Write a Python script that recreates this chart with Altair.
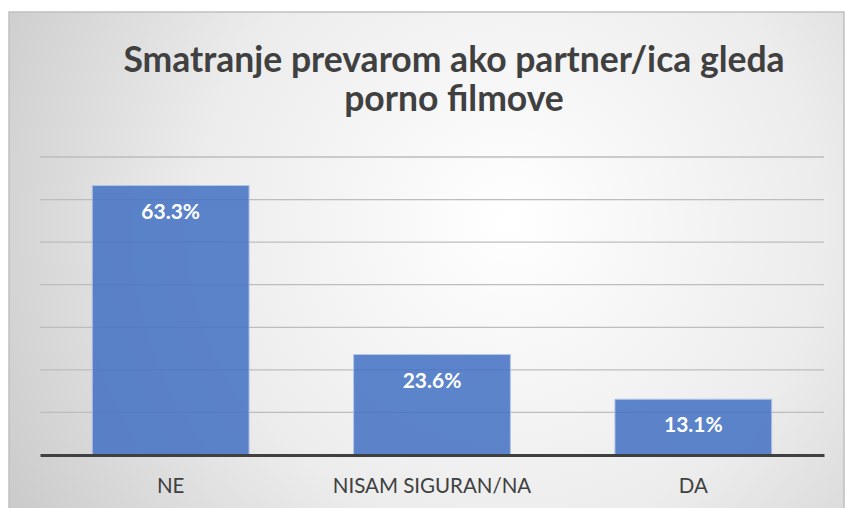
import altair as alt
import pandas as pd

categories = ["NE", "NISAM SIGURAN/NA", "DA"]
values = [63.3, 23.6, 13.1]
labels = ["63.3%", "23.6%", "13.1%"]
grid_values = [10, 20, 30, 40, 50, 60, 70]
title_lines = ["Smatranje prevarom ako partner/ica gleda", "porno filmove"]

df = pd.DataFrame({"cat": categories, "val": values, "lab": labels})
grid_df = pd.DataFrame({"g": grid_values})

FONT = "Lato"
W, H = 784, 298

x_enc = alt.X("cat:N", sort=categories, title=None,
              scale=alt.Scale(paddingInner=0.4, paddingOuter=0.2),
              axis=alt.Axis(labelAngle=0, labelFontSize=20.5, labelColor="#404040",
                            labelFont=FONT, labelPadding=21, ticks=False, labelLimit=0,
                            domainColor="#404040", domainWidth=3, zindex=1,
                            grid=False))
y_scale = alt.Scale(domain=[0, 70], nice=False)

bg = alt.Chart(alt.Data(values=[{"a": 1}])).mark_rect(
    fill={"gradient": "radial", "x1": 0.6, "y1": 0.45, "r1": 0,
          "x2": 0.6, "y2": 0.45, "r2": 0.75,
          "stops": [{"offset": 0, "color": "#ffffff"},
                    {"offset": 0.5, "color": "#ececec"},
                    {"offset": 1, "color": "#c4c4c4"}]},
    stroke="#c0c0c0", strokeWidth=1.5, clip=False
).encode(x=alt.value(-31), x2=alt.value(W + 20), y=alt.value(-145), y2=alt.value(H + 60))

title = alt.Chart(alt.Data(values=[{"a": 1}])).mark_text(
    text=title_lines, fontSize=35.5, font=FONT, fontWeight="bold", color="#404040",
    align="center", baseline="alphabetic", lineHeight=39, clip=False
).encode(x=alt.value(414), y=alt.value(-85))

grid = alt.Chart(grid_df).mark_rule(color="#bdbdbd", strokeWidth=1.3).encode(
    y=alt.Y("g:Q", scale=y_scale, axis=None)
)

bars = alt.Chart(df).mark_bar(color="#4472C4", opacity=0.86, stroke="#a9bfe6",
                              strokeWidth=1).encode(
    x=x_enc,
    y=alt.Y("val:Q", scale=y_scale, axis=None),
)

text = alt.Chart(df).mark_text(color="white", fontSize=21, fontWeight="bold",
                               font=FONT, baseline="middle", dy=27).encode(
    x=alt.X("cat:N", sort=categories),
    y=alt.Y("val:Q", scale=y_scale),
    text="lab:N",
)

chart = alt.layer(bg, title, grid, bars, text).properties(
    width=W, height=H,
    padding={"left": 40, "top": 157, "right": 21, "bottom": 53},
    autosize=alt.AutoSizeParams(type="none"),
).configure_view(stroke=None).configure(background="white")

chart.save("out.html", embed_options={"renderer": "svg", "actions": False})
